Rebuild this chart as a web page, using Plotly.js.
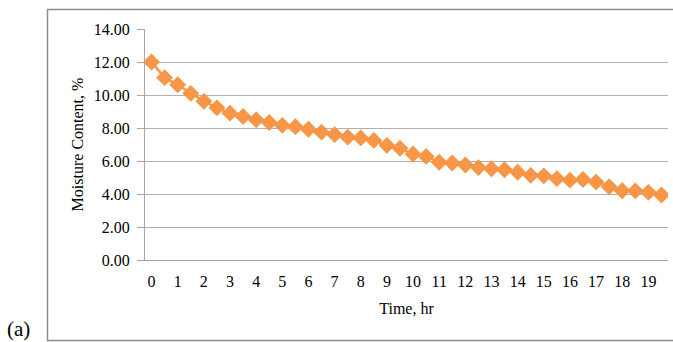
<!DOCTYPE html>
<html>
<head>
<meta charset="utf-8">
<script src="https://cdn.plot.ly/plotly-3.0.1.min.js"></script>
<style>html,body{margin:0;padding:0;background:#fff;}#chart{width:673px;height:342px;}</style>
</head>
<body>
<div id="chart"></div>
<script>
const timeHr = [0, 0.5, 1, 1.5, 2, 2.5, 3, 3.5, 4, 4.5, 5, 5.5, 6, 6.5, 7, 7.5, 8, 8.5, 9, 9.5,
  10, 10.5, 11, 11.5, 12, 12.5, 13, 13.5, 14, 14.5, 15, 15.5, 16, 16.5, 17, 17.5, 18, 18.5, 19, 19.5];
const moisture = [12.00, 11.05, 10.62, 10.10, 9.62, 9.22, 8.90, 8.70, 8.50, 8.33, 8.16, 8.08, 7.92, 7.75, 7.60, 7.45, 7.40, 7.25, 6.95, 6.77,
  6.42, 6.28, 5.92, 5.88, 5.76, 5.60, 5.53, 5.47, 5.32, 5.13, 5.10, 4.93, 4.84, 4.88, 4.72, 4.44, 4.20, 4.19, 4.10, 3.94];
const xTickVals = [0, 1, 2, 3, 4, 5, 6, 7, 8, 9, 10, 11, 12, 13, 14, 15, 16, 17, 18, 19];
const xTickText = ["0", "1", "2", "3", "4", "5", "6", "7", "8", "9", "10", "11", "12", "13", "14", "15", "16", "17", "18", "19"];
const yTickVals = [0, 2, 4, 6, 8, 10, 12, 14];
const yTickText = ["0.00", "2.00", "4.00", "6.00", "8.00", "10.00", "12.00", "14.00"];

const font = {family: "'Liberation Serif', 'Times New Roman', serif", size: 16, color: '#000'};
const orange = '#F79646';

const trace = {
  x: timeHr, y: moisture, type: 'scatter', mode: 'lines+markers',
  line: {color: orange, width: 2.5},
  marker: {symbol: 'diamond', size: 13, color: orange},
  hoverinfo: 'skip'
};

const layout = {
  width: 673, height: 342,
  margin: {l: 145, r: 5, t: 29, b: 82},
  paper_bgcolor: '#fff', plot_bgcolor: '#fff',
  font: font,
  showlegend: false,
  xaxis: {
    range: [-0.25, 19.75], tickvals: xTickVals, ticktext: xTickText,
    showgrid: false, zeroline: false,
    showline: true, linecolor: '#a6a6a6', linewidth: 1,
    ticks: '', ticklabelstandoff: 7, tickfont: font,
    title: {text: 'Time, hr', font: font, standoff: 13}
  },
  yaxis: {
    range: [0, 14], tickvals: yTickVals, ticktext: yTickText,
    showgrid: true, gridcolor: '#b0b0b0', gridwidth: 1, zeroline: false,
    showline: true, linecolor: '#a6a6a6', linewidth: 1,
    ticks: 'outside', ticklen: 7, tickcolor: '#a6a6a6', tickfont: font,
    ticklabelstandoff: 4,
    title: {text: 'Moisture Content, %', font: font, standoff: 6}
  },
  shapes: [{
    type: 'rect', xref: 'paper', yref: 'paper',
    x0: -0.1864, x1: 1.05, y0: -0.3485, y1: 1.0844,
    line: {color: '#8c8c8c', width: 1.5}, fillcolor: 'rgba(0,0,0,0)', layer: 'below'
  }],
  annotations: [{
    text: '(a)', xref: 'paper', yref: 'paper', x: -0.241, y: -0.297,
    xanchor: 'center', yanchor: 'middle', showarrow: false,
    font: {family: font.family, size: 21, color: '#000'}
  }]
};

Plotly.newPlot('chart', [trace], layout, {staticPlot: true, displayModeBar: false});
</script>
</body>
</html>
